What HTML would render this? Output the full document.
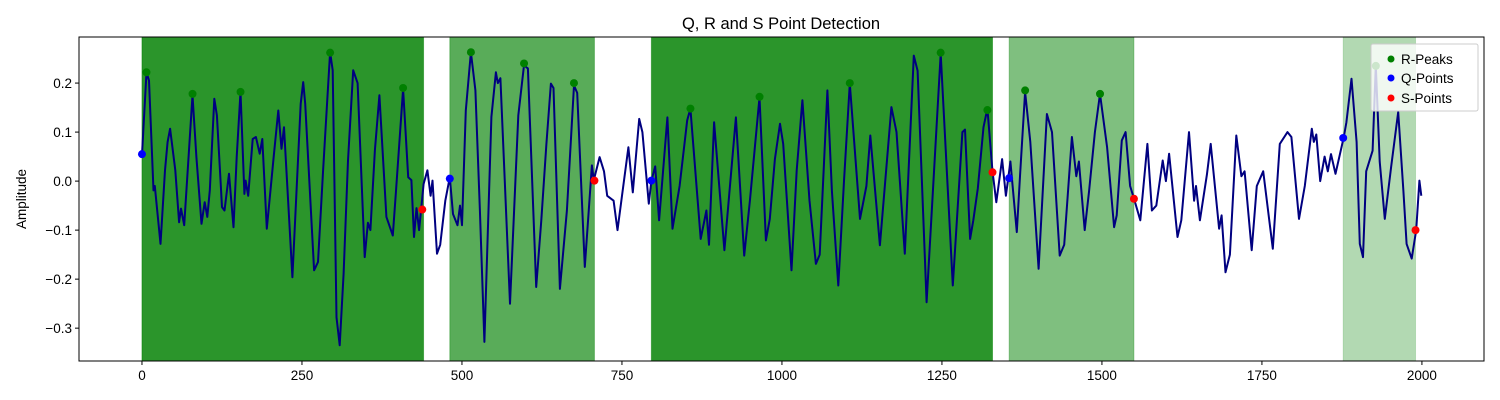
<!DOCTYPE html>
<html><head><meta charset="utf-8"><style>
html,body{margin:0;padding:0;background:#fff;}
svg{display:block;font-family:"Liberation Sans","DejaVu Sans",sans-serif;}
</style></head><body>
<svg id="chart" width="1500" height="400" viewBox="0 0 1500 400" xmlns="http://www.w3.org/2000/svg">
<rect x="0" y="0" width="1500" height="400" fill="#fff"/>
<text x="781" y="29" text-anchor="middle" font-size="16.5" fill="#000">Q, R and S Point Detection</text>
<text transform="translate(26,199) rotate(-90)" text-anchor="middle" font-size="13.5" fill="#000">Amplitude</text>
<g id="regions"></g>
<g id="grid"></g>
<clipPath id="clip"><rect x="79" y="37" width="1405" height="324"/></clipPath>
<g id="series" clip-path="url(#clip)"></g>
<g id="markers"></g>
<rect x="79" y="37" width="1405" height="324" fill="none" stroke="#000" stroke-width="1"/>
<g id="legend">
<rect x="1371" y="44" width="107" height="67" rx="2" fill="#fff" fill-opacity="0.8" stroke="#ccc" stroke-width="1"/>
<circle cx="1391" cy="59" r="3.5" fill="green"/>
<text x="1401" y="64" font-size="13.5">R-Peaks</text>
<circle cx="1391" cy="78" r="3.5" fill="blue"/>
<text x="1401" y="83" font-size="13.5">Q-Points</text>
<circle cx="1391" cy="98" r="3.5" fill="red"/>
<text x="1401" y="103" font-size="13.5">S-Points</text>
</g>
</svg>
<script>
const sigX = [0,7,11,18,20,29,36,40,44,52,58,61,66,79,85,93,98,102,106,113,117,125,129,136,143,148,154,160,162,166,173,178,184,188,195,206,213,218,222,235,248,252,255,269,275,283,294,298,304,309,315,322,330,337,348,353,357,364,371,382,392,397,408,416,421,425,429,433,440,446,451,454,461,466,474,481,486,493,497,500,506,514,521,528,535,546,553,556,560,575,588,597,603,616,624,632,639,643,653,664,675,680,692,703,706,715,722,727,737,743,750,760,767,777,782,792,796,802,808,821,829,840,852,857,873,882,886,894,910,928,941,950,965,975,981,989,997,1002,1015,1023,1032,1043,1053,1059,1071,1078,1088,1097,1106,1122,1132,1138,1153,1171,1179,1192,1206,1212,1226,1248,1267,1282,1286,1294,1299,1306,1315,1321,1329,1335,1344,1350,1357,1367,1372,1380,1388,1401,1414,1422,1434,1441,1453,1460,1464,1473,1480,1489,1497,1508,1519,1523,1531,1537,1544,1550,1560,1571,1578,1585,1595,1600,1605,1618,1624,1636,1644,1647,1653,1664,1670,1683,1687,1693,1700,1710,1718,1723,1734,1742,1752,1767,1778,1790,1796,1808,1817,1828,1831,1835,1841,1848,1853,1858,1865,1878,1882,1890,1898,1903,1908,1913,1923,1928,1934,1942,1952,1963,1971,1976,1984,1991,1996,1999];
const sigY = [0.054,0.222,0.205,-0.019,-0.01,-0.128,0.022,0.08,0.107,0.022,-0.084,-0.056,-0.09,0.175,0.049,-0.087,-0.043,-0.073,-0.019,0.168,0.134,-0.053,-0.06,0.015,-0.094,0.049,0.182,-0.026,0.001,-0.03,0.086,0.09,0.056,0.086,-0.097,0.052,0.144,0.066,0.11,-0.196,0.158,0.202,0.158,-0.182,-0.165,0.022,0.263,0.226,-0.278,-0.335,-0.189,0.042,0.226,0.2,-0.155,-0.085,-0.1,0.063,0.175,-0.073,-0.111,-0.02,0.188,0.008,0.002,-0.114,-0.055,-0.1,-0.006,0.022,-0.03,0.001,-0.148,-0.13,-0.04,0.008,-0.067,-0.09,-0.05,-0.09,0.144,0.263,0.185,-0.06,-0.328,0.131,0.222,0.2,0.21,-0.25,0.134,0.236,0.23,-0.216,-0.08,0.076,0.199,0.19,-0.22,-0.06,0.195,0.18,-0.175,0.032,0.002,0.049,0.02,-0.03,-0.04,-0.1,-0.03,0.069,-0.023,0.127,0.1,-0.046,0.001,0.03,-0.08,0.13,-0.097,-0.01,0.124,0.148,-0.118,-0.06,-0.13,0.12,-0.141,0.13,-0.152,-0.04,0.171,-0.121,-0.077,0.045,0.117,0.076,-0.182,0.022,0.165,-0.04,-0.169,-0.15,0.185,-0.02,-0.213,0.0,0.199,-0.077,-0.01,0.093,-0.131,0.151,0.1,-0.148,0.256,0.225,-0.247,0.26,-0.213,0.1,0.105,-0.118,-0.08,-0.015,0.11,0.148,0.02,-0.043,0.045,-0.03,0.04,-0.104,0.01,0.182,0.08,-0.179,0.137,0.1,-0.152,-0.13,0.09,0.01,0.04,-0.1,-0.02,0.1,0.178,0.069,-0.094,-0.07,0.083,0.1,-0.01,-0.035,-0.08,0.076,-0.06,-0.05,0.042,0.0,0.056,-0.114,-0.08,0.1,-0.04,-0.01,-0.08,0.013,0.076,-0.097,-0.07,-0.186,-0.15,0.093,0.01,0.02,-0.141,-0.01,0.02,-0.138,0.076,0.1,0.09,-0.077,-0.01,0.107,0.08,0.095,0.0,0.05,0.02,0.055,0.015,0.09,0.12,0.209,0.08,-0.128,-0.155,0.02,0.062,0.236,0.04,-0.077,0.03,0.141,-0.02,-0.128,-0.158,-0.1,0.001,-0.03];
const rX = [7,79,154,294,408,514,597,675,857,965,1106,1248,1321,1380,1497,1928];
const rY = [0.222,0.178,0.182,0.262,0.19,0.263,0.24,0.2,0.148,0.172,0.2,0.262,0.145,0.185,0.178,0.235];
const qX = [0,481,796,1355,1877];
const qY = [0.055,0.005,0.001,0.006,0.088];
const sX = [438,707,1329,1550,1990];
const sY = [-0.058,0.001,0.018,-0.036,-0.1];
const regionStart = [0,481,796,1355,1877];
const regionEnd = [440,707,1329,1550,1990];
const regionAlpha = [0.83,0.65,0.5,0.5,0.3];
const xTicks = [0,250,500,750,1000,1250,1500,1750,2000];
const yTicks = [-0.3,-0.2,-0.1,0.0,0.1,0.2];

const NS = "http://www.w3.org/2000/svg";
const X0 = 79, X1 = 1484, Y0 = 37, Y1 = 361;
const xMin = -98.4, xMax = 2097, yMin = -0.367, yMax = 0.294;
function sx(v){ return X0 + (v - xMin) / (xMax - xMin) * (X1 - X0); }
function sy(v){ return Y1 - (v - yMin) / (yMax - yMin) * (Y1 - Y0); }
function mk(tag, attrs, parent){ const e = document.createElementNS(NS, tag); for (const k in attrs) e.setAttribute(k, attrs[k]); parent.appendChild(e); return e; }

const regG = document.getElementById('regions');
regionAlpha[2] = 0.83;
for (let i = 0; i < regionStart.length; i++) {
  const r = mk('rect', {x: sx(regionStart[i]), y: Y0, width: sx(regionEnd[i]) - sx(regionStart[i]), height: Y1 - Y0, fill: 'green', 'fill-opacity': regionAlpha[i], stroke: 'green', 'stroke-opacity': regionAlpha[i] * 0.6}, regG);
  
  
}

const gG = document.getElementById('grid');
xTicks.forEach(t => {
  const l = mk('line', {x1: sx(t), x2: sx(t), y1: Y1, y2: Y1 + 4, stroke: '#000'}, gG);
  
  
  const tx = mk('text', {x: sx(t), y: Y1 + 19, 'text-anchor': 'middle', 'font-size': 13.5}, gG);
  tx.textContent = String(t);
  
  
});
yTicks.forEach(t => {
  const l = mk('line', {x1: X0 - 4, x2: X0, y1: sy(t), y2: sy(t), stroke: '#000'}, gG);
  
  
  const tx = mk('text', {x: X0 - 7, y: sy(t) + 5, 'text-anchor': 'end', 'font-size': 13.5}, gG);
  tx.textContent = (t < 0 ? '\u2212' : '') + Math.abs(t).toFixed(1);
  
  
});

const serG = document.getElementById('series');
let d = '';
for (let i = 0; i < sigX.length; i++) d += (i ? 'L' : 'M') + sx(sigX[i]).toFixed(1) + ' ' + sy(sigY[i]).toFixed(1);
const path = mk('path', {d: d, fill: 'none', stroke: '#000080', 'stroke-width': 2, 'stroke-linejoin': 'round'}, serG);



const mG = document.getElementById('markers');
function dots(xs, ys, color, name){
  for (let i = 0; i < xs.length; i++) {
    const c = mk('circle', {cx: sx(xs[i]), cy: sy(ys[i]), r: 4, fill: color}, mG);
    
    
  }
}
dots(rX, rY, 'green', 'r-peak-marker');
dots(qX, qY, 'blue', 'q-point-marker');
dots(sX, sY, 'red', 's-point-marker');
document.getElementById('chart').appendChild(document.getElementById('legend'));
</script>
</body></html>
